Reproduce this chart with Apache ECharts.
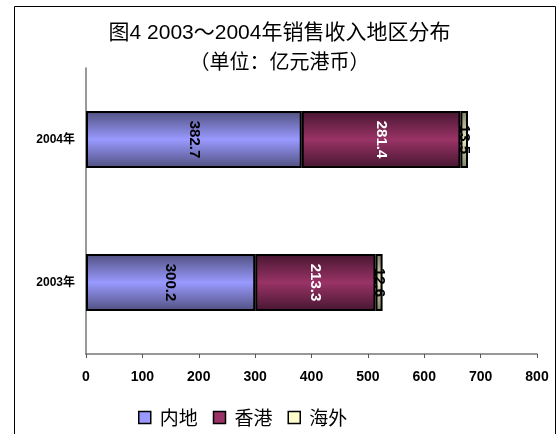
<!DOCTYPE html>
<html>
<head>
<meta charset="utf-8">
<script src="https://cdn.jsdelivr.net/npm/echarts@6/dist/echarts.min.js"></script>
<style>
html,body{margin:0;padding:0;background:#fff;}
#chart{width:559px;height:434px;}
</style>
</head>
<body>
<div id="chart"></div>
<script>
// Sales revenue by region, 2003–2004 (HKD 100 million)
const years = ['2003年', '2004年'];
const mainland = [300.2, 382.7];
const hongKong = [213.3, 281.4];
const overseas = [12.6, 13.5];
const xTicks = { min: 0, max: 800, interval: 100 };

const chart = echarts.init(document.getElementById('chart'));

function shade(edge, mid) {
  return new echarts.graphic.LinearGradient(0, 0, 0, 1, [
    { offset: 0, color: edge },
    { offset: 0.5, color: mid },
    { offset: 1, color: edge }
  ]);
}

const latin = '"Liberation Sans", Arial, sans-serif';
const cjk = '"Liberation Sans", "Noto Sans CJK SC", sans-serif';

function seg(name, data, edge, mid, labelColor) {
  return {
    name: name,
    type: 'bar',
    stack: 'total',
    data: data,
    barWidth: '40%',
    itemStyle: { color: shade(edge, mid), borderColor: '#000', borderWidth: 2 },
    label: {
      show: true,
      position: 'inside',
      rotate: -90,
      color: labelColor,
      fontFamily: latin,
      fontWeight: 'bold',
      fontSize: 15,
      formatter: p => p.value.toFixed(1)
    },
    emphasis: { disabled: true }
  };
}

chart.setOption({
  animation: false,
  backgroundColor: '#fff',
  title: {
    text: '图4 2003～2004年销售收入地区分布',
    subtext: '（单位：亿元港币）',
    left: 'center',
    top: 18,
    itemGap: 7,
    textStyle: { fontFamily: cjk, fontSize: 21, fontWeight: 'normal', color: '#000' },
    subtextStyle: { fontFamily: '"Noto Sans CJK SC", sans-serif', fontSize: 20, color: '#000' }
  },
  legend: {
    bottom: 2,
    left: 133,
    itemWidth: 12,
    itemHeight: 12,
    itemGap: 15,
    icon: 'rect',
    textStyle: { fontFamily: '"Noto Sans CJK SC", sans-serif', fontSize: 19, color: '#000', padding: [0, 0, 0, 4] },
    data: [
      { name: '内地', itemStyle: { color: '#9999ff', borderColor: '#000', borderWidth: 1.5 } },
      { name: '香港', itemStyle: { color: '#993366', borderColor: '#000', borderWidth: 1.5 } },
      { name: '海外', itemStyle: { color: '#ffffcc', borderColor: '#000', borderWidth: 1.5 } }
    ]
  },
  grid: { left: 86, right: 22, top: 68, bottom: 80 },
  xAxis: {
    type: 'value',
    min: xTicks.min,
    max: xTicks.max,
    interval: xTicks.interval,
    axisLine: { show: true, lineStyle: { color: '#777', width: 1.5 } },
    axisTick: { show: true, length: 4, lineStyle: { color: '#555' } },
    splitLine: { show: false },
    axisLabel: { fontFamily: latin, fontWeight: 'bold', fontSize: 14, color: '#000', margin: 16 }
  },
  yAxis: {
    type: 'category',
    data: years,
    axisLine: { show: true, lineStyle: { color: '#777', width: 1.5 } },
    axisTick: { show: false },
    axisLabel: { fontFamily: cjk, fontWeight: 'bold', fontSize: 12, color: '#000', margin: 11 }
  },
  graphic: [{
    type: 'rect',
    left: 12, top: 4,
    shape: { width: 541, height: 440 },
    style: { fill: 'none', stroke: '#000', lineWidth: 1 },
    silent: true
  }],
  series: [
    seg('内地', mainland, '#50507f', '#9999ff', '#000'),
    seg('香港', hongKong, '#461630', '#993366', '#fff'),
    seg('海外', overseas, '#7f7f66', '#e8e8c0', '#000')
  ]
});
</script>
</body>
</html>
